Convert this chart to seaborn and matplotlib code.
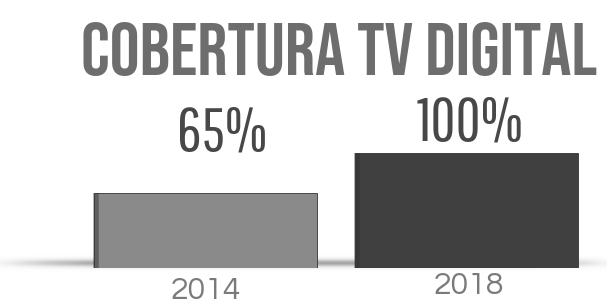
import numpy as np
import pandas as pd
import matplotlib.pyplot as plt
import seaborn as sns

# Data
years = ['2014', '2018']
coverage = [65, 100]
labels = ['65%', '100%']
bar_colors = ['#8a8a8a', '#404040']
title = 'COBERTURA TV DIGITAL'

# label placement (points offset from bar top / baseline)
label_dx = [0.065, 0.014]
label_dy = [31, 9]
year_dx = [0.0, 0.01]
year_dy = [-22, -19]

df = pd.DataFrame({'ano': years, 'cobertura': coverage})

sns.set_theme(style='white')
plt.rcParams['font.family'] = ['Bebas Neue', 'DejaVu Sans']

fig = plt.figure(figsize=(6.07, 3.04), dpi=100)
fig.patch.set_facecolor('white')

# soft floor shadow behind the bars
shadow_ax = fig.add_axes([0, 30 / 304, 1, 22 / 304], zorder=0)
prof = np.exp(-((np.linspace(-1, 1, 40)) ** 2) / 0.15)
horiz = np.clip(1.2 - np.abs(np.linspace(-1, 1, 200)) ** 4, 0, 1)
shade = prof[:, None] * horiz[None, :]
shadow_ax.imshow(shade, cmap='Greys', vmin=0, vmax=2.2, aspect='auto',
                 extent=[0, 1, 0, 1])
shadow_ax.axis('off')

# main bar axes
ax = fig.add_axes([75 / 607, 36 / 304, 522 / 607, 115 / 304], zorder=1)
ax.patch.set_alpha(0)
sns.barplot(data=df, x='ano', y='cobertura', hue='ano', palette=bar_colors,
            width=0.855, legend=False, ax=ax, saturation=1,
            edgecolor='#333333', linewidth=0.6)
ax.set_xlim(-0.5, 1.5)
ax.set_ylim(0, 100)
ax.axis('off')

# darker left side on each bar for a little depth
for p in ax.patches:
    ax.plot([p.get_x() + 0.008] * 2, [p.get_y(), p.get_height()],
            color='#2e2e2e', lw=4, alpha=0.45, solid_capstyle='butt')

# value labels above bars
for i, (v, lab) in enumerate(zip(coverage, labels)):
    ax.annotate(lab, (i + label_dx[i], v), xytext=(0, label_dy[i]),
                textcoords='offset points', ha='center', va='baseline',
                fontsize=44, color='#484848',
                family=['Pathway Gothic One', 'DejaVu Sans'],
                annotation_clip=False)

# year labels below bars
for i, y in enumerate(years):
    ax.annotate(y, (i + year_dx[i], 0), xytext=(0, year_dy[i]),
                textcoords='offset points', ha='center', va='baseline',
                fontsize=23, color='#7a7a7a',
                family=['Questrial', 'DejaVu Sans'], annotation_clip=False)

# title
fig.text(339 / 607, 1 - 75 / 304, title, ha='center', va='baseline',
         fontsize=54, color='#6d6d6d',
         family=['Bebas Neue', 'DejaVu Sans'])

fig.savefig('out.png', dpi=100, facecolor='white')
